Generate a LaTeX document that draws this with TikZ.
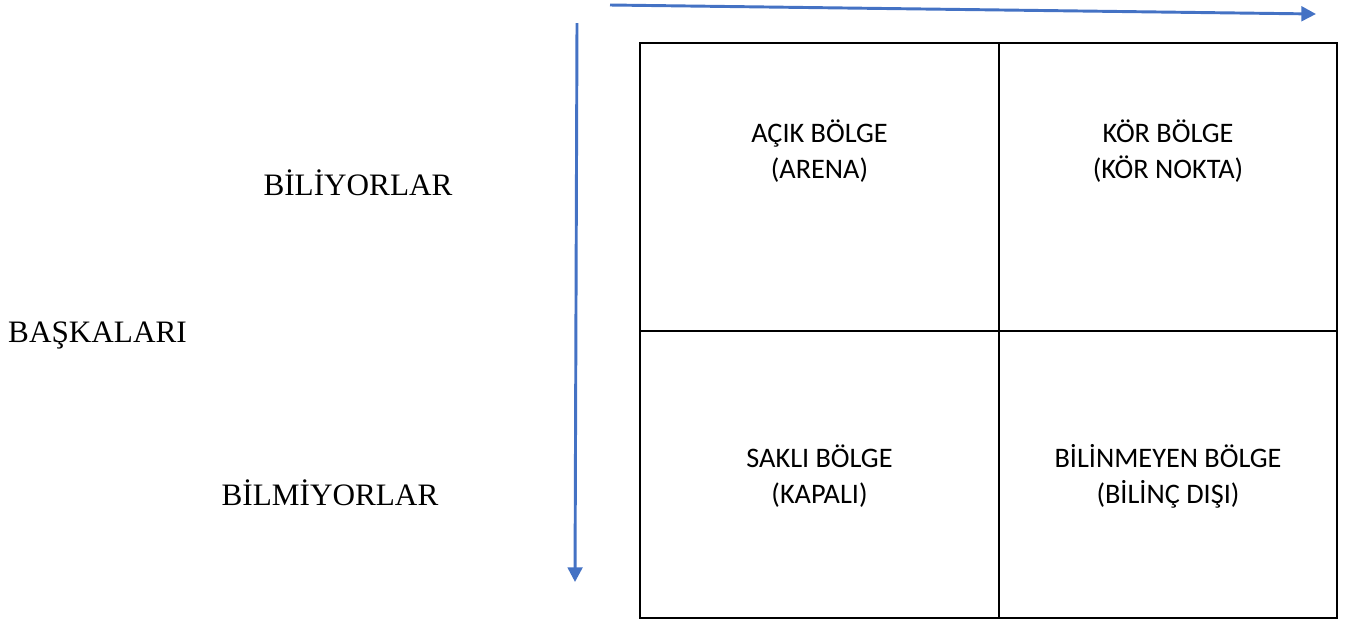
\documentclass[tikz,border=0pt]{standalone}
\usepackage{fontspec}
\setmainfont{Liberation Serif}
\newfontfamily\cellfont{Carlito}
\usetikzlibrary{arrows.meta}
\definecolor{arrowblue}{HTML}{4472C4}
\begin{document}
\begin{tikzpicture}[x=0.75pt,y=-0.75pt,
  axisarrow/.style={draw=arrowblue,line width=2.2pt,-{Triangle[length=11pt,width=11pt]}},
  gridline/.style={draw=black,line width=1.5pt},
  sidelabel/.style={font=\fontsize{23.4}{28}\selectfont,inner sep=0pt,anchor=base},
  celltext/.style={font=\cellfont\fontsize{21.2}{26.6}\selectfont,inner sep=0pt,align=center,anchor=base}]
\useasboundingbox (0,0) rectangle (1345,619);
% grid
\draw[gridline] (640,43) rectangle (1337,618);
\draw[gridline] (999,43) -- (999,618);
\draw[gridline] (640,331) -- (1337,331);
% arrows
\coordinate (hs) at (610,5);
\coordinate (he) at (1316,14);
\coordinate (vs) at (577,23);
\coordinate (ve) at (575,582);
\draw[axisarrow] (hs) -- (he);
\draw[axisarrow] (vs) -- (ve);
% side labels
\node[sidelabel] (bil) at (358,195) {BİLİYORLAR};
\node[sidelabel] (bas) at (97.5,342) {BAŞKALARI};
\node[sidelabel] (bilm) at (330,505) {BİLMİYORLAR};
% cell texts (anchor = baseline of the last line)
\node[celltext] (acik) at (819.5,178) {AÇIK BÖLGE\\(ARENA)};
\node[celltext] (kor) at (1168,178) {KÖR BÖLGE\\(KÖR NOKTA)};
\node[celltext] (sakli) at (819.5,503) {SAKLI BÖLGE\\(KAPALI)};
\node[celltext] (bilin) at (1168,503) {BİLİNMEYEN BÖLGE\\(BİLİNÇ DIŞI)};
\end{tikzpicture}
\end{document}
